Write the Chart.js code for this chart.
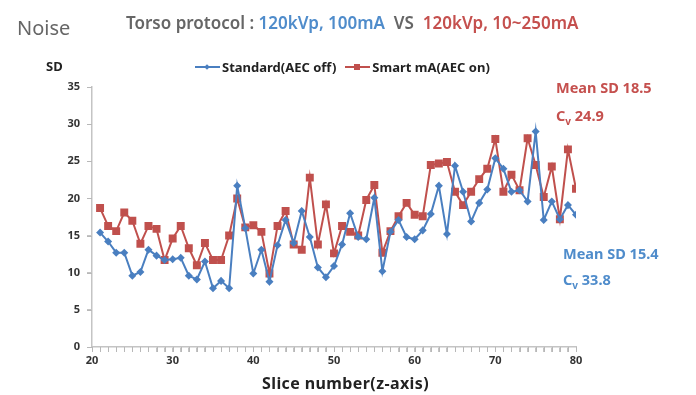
<!DOCTYPE html>
<html>
<head>
<meta charset="utf-8">
<script src="https://cdn.jsdelivr.net/npm/chart.js@4.4.0/dist/chart.umd.min.js"></script>
<style>
  body { margin: 0; background: #fff; font-family: "Noto Sans", sans-serif; }
  #wrap { position: relative; width: 696px; height: 395px; overflow: hidden; }
  #chart { position: absolute; left: 0; top: 0; }
  .txt { position: absolute; white-space: nowrap; }
  #noise { left: 17px; top: 14px; font-size: 20px; color: #666; }
  #proto { left: 126px; top: 11px; font-size: 17px; font-weight: 600; color: #666; }
  .blue { color: #4f8ccb; }
  .red { color: #c5504e; }
  #sd { left: 46px; top: 57px; font-size: 13px; font-weight: bold; color: #222; }
  #legend { left: 195px; top: 58px; font-size: 13px; font-weight: bold; color: #222; display: flex; gap: 9px; }
  .item { display: flex; align-items: center; }
  .sym { position: relative; width: 25px; height: 12px; margin-right: 2px; }
  .sym .ln { position: absolute; left: 0; right: 0; top: 5px; height: 2px; }
  .sym .mk { position: absolute; }
  .note { font-size: 14.5px; font-weight: bold; }
  .note sub { font-size: 10px; }
  #xtitle { left: 262px; top: 372px; font-size: 16px; letter-spacing: 0.4px; font-weight: bold; color: #222; }
</style>
</head>
<body>
<div id="wrap">
  <canvas id="chart" width="696" height="395"></canvas>
  <div class="txt" id="noise">Noise</div>
  <div class="txt" id="proto">Torso protocol : <span class="blue">120kVp, 100mA</span>&nbsp; VS&nbsp; <span class="red">120kVp, 10~250mA</span></div>
  <div class="txt" id="sd">SD</div>
  <div class="txt" id="legend">
    <div class="item"><div class="sym"><div class="ln" style="background:#4a7fc0"></div><div class="mk" style="left:10px;top:3.5px;width:4px;height:4px;background:#4a7fc0;transform:rotate(45deg)"></div></div>Standard(AEC off)</div>
    <div class="item"><div class="sym"><div class="ln" style="background:#c0504d"></div><div class="mk" style="left:9px;top:3px;width:6px;height:6px;background:#c0504d"></div></div>Smart mA(AEC on)</div>
  </div>
  <div class="txt note red" style="left:556px; top:77px;">Mean SD 18.5</div>
  <div class="txt note red" style="left:556px; top:105px;">C<sub>v</sub> 24.9</div>
  <div class="txt note blue" style="left:563px; top:243px;">Mean SD 15.4</div>
  <div class="txt note blue" style="left:563px; top:269px;">C<sub>v</sub> 33.8</div>
  <div class="txt" id="xtitle">Slice number(z-axis)</div>
</div>
<script>
// slice numbers (z-axis)
const slices = [21, 22, 23, 24, 25, 26, 27, 28, 29, 30, 31, 32, 33, 34, 35, 36, 37, 38, 39, 40,
  41, 42, 43, 44, 45, 46, 47, 48, 49, 50, 51, 52, 53, 54, 55, 56, 57, 58, 59, 60,
  61, 62, 63, 64, 65, 66, 67, 68, 69, 70, 71, 72, 73, 74, 75, 76, 77, 78, 79, 80];

// Standard(AEC off)
const standardSD = [15.4, 14.2, 12.7, 12.7, 9.6, 10.1, 13.1, 12.3, 11.7, 11.8, 12.0, 9.6, 9.1, 11.5, 7.9, 8.9, 7.9, 21.7, 16.0, 9.9,
  13.1, 8.8, 13.7, 17.1, 14.0, 18.3, 14.8, 10.7, 9.4, 10.9, 13.8, 18.0, 14.8, 14.5, 20.1, 10.2, 15.5, 17.1, 14.8, 14.5,
  15.7, 17.9, 21.7, 15.2, 24.4, 20.9, 16.9, 19.4, 21.2, 25.4, 24.0, 20.9, 21.1, 19.6, 29.0, 17.1, 19.6, 17.2, 19.1, 17.8];

// Smart mA(AEC on)
const smartSD = [18.7, 16.3, 15.6, 18.1, 17.0, 13.9, 16.3, 15.9, 11.7, 14.6, 16.3, 13.3, 11.0, 14.0, 11.7, 11.7, 15.0, 20.0, 16.1, 16.4,
  15.5, 9.9, 16.3, 18.3, 13.8, 13.1, 22.8, 13.8, 19.2, 12.6, 16.3, 15.5, 15.0, 19.8, 21.8, 12.7, 15.6, 17.6, 19.4, 17.8,
  17.6, 24.5, 24.7, 24.9, 20.9, 19.1, 20.9, 22.6, 24.0, 28.0, 20.9, 23.2, 21.1, 28.1, 24.5, 20.2, 24.3, 17.2, 26.6, 21.3];

const xLabels = [20, 30, 40, 50, 60, 70, 80];
const yLabels = [0, 5, 10, 15, 20, 25, 30, 35];

const toPoints = (vals) => vals.map((v, i) => ({ x: slices[i], y: v }));

const axisColor = '#c4c4c4';
const tickFont = { family: 'Noto Sans', size: 11, weight: 'bold' };

// small outside tick marks on both axes (every slice on x, every label on y)
const tickMarks = {
  id: 'tickMarks',
  afterDraw(chart) {
    const { ctx, chartArea, scales: { x, y } } = chart;
    ctx.save();
    ctx.strokeStyle = '#b8b8b8';
    ctx.lineWidth = 1;
    ctx.beginPath();
    x.ticks.forEach(t => {
      const px = Math.round(x.getPixelForValue(t.value)) + 0.5;
      ctx.moveTo(px, chartArea.bottom);
      ctx.lineTo(px, chartArea.bottom + 5);
    });
    y.ticks.forEach(t => {
      const py = Math.round(y.getPixelForValue(t.value)) + 0.5;
      ctx.moveTo(chartArea.left - 5, py);
      ctx.lineTo(chartArea.left, py);
    });
    ctx.stroke();
    ctx.restore();
  }
};

new Chart(document.getElementById('chart'), {
  type: 'line',
  data: {
    datasets: [{
      label: 'Standard(AEC off)',
      data: toPoints(standardSD),
      borderColor: '#4a7fc0',
      backgroundColor: '#4a7fc0',
      borderWidth: 2,
      pointStyle: 'rectRot',
      pointRadius: 2.6,
      tension: 0
    },
    {
      label: 'Smart mA(AEC on)',
      data: toPoints(smartSD),
      borderColor: '#c0504d',
      backgroundColor: '#c0504d',
      borderWidth: 2,
      pointStyle: 'rect',
      pointRadius: 4.2,
      tension: 0
    }]
  },
  plugins: [tickMarks],
  options: {
    responsive: false,
    animation: false,
    layout: { padding: { left: 42, right: 120, top: 87, bottom: 0 } },
    plugins: {
      legend: { display: false },
      tooltip: { enabled: false }
    },
    scales: {
      x: {
        type: 'linear',
        min: 20,
        max: 80,
        afterFit: (s) => { s.height = 48; },
        afterBuildTicks: (s) => {
          s.ticks = [];
          for (let v = 20; v <= 80; v++) s.ticks.push({ value: v });
        },
        ticks: {
          autoSkip: false,
          maxRotation: 0,
          padding: 2,
          color: '#333',
          font: tickFont,
          callback: (v) => xLabels.includes(v) ? String(v) : ' '
        },
        grid: { drawOnChartArea: false, color: axisColor, tickLength: 5 },
        border: { color: axisColor, width: 1.5 }
      },
      y: {
        min: 0,
        max: 35,
        afterFit: (s) => { s.width = 50; },
        afterBuildTicks: (s) => { s.ticks = yLabels.map(v => ({ value: v })); },
        ticks: { color: '#333', font: tickFont, padding: 7 },
        grid: { drawOnChartArea: false, color: axisColor, tickLength: 5 },
        border: { color: axisColor, width: 1.5 }
      }
    }
  }
});
</script>
</body>
</html>
